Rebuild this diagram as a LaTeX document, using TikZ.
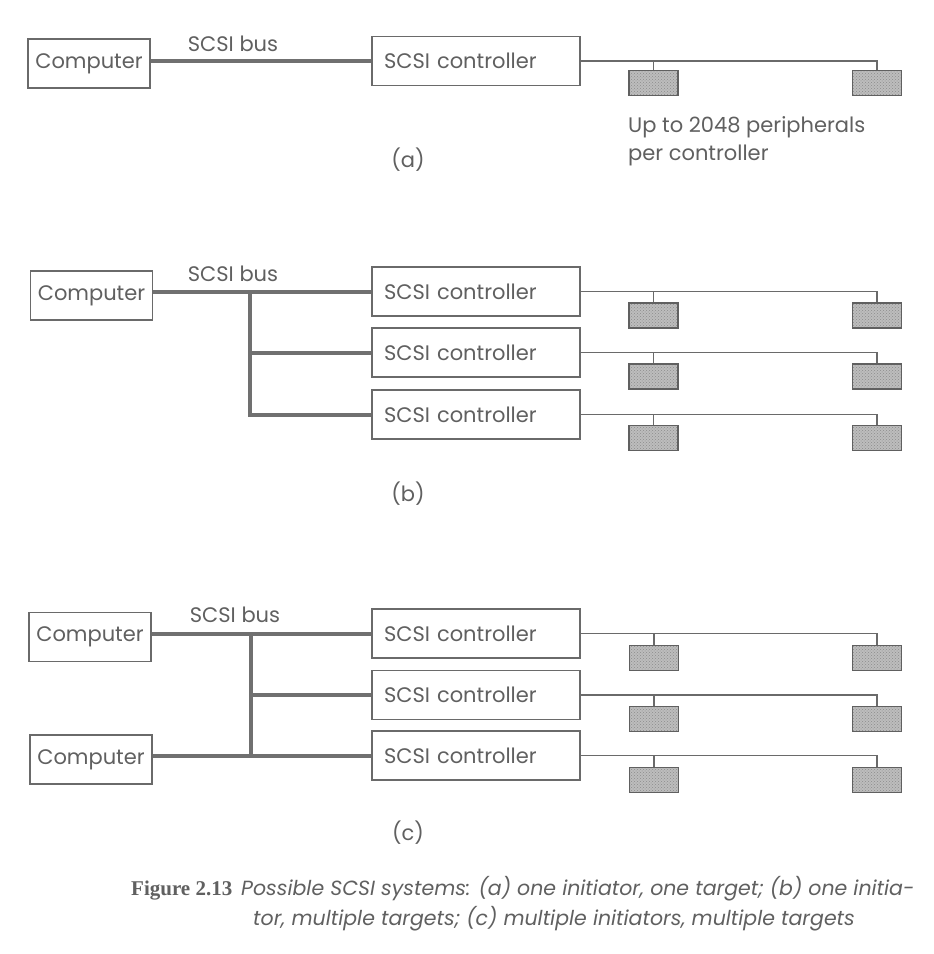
\documentclass[tikz,border=0pt]{standalone}
\usepackage{fontspec}
\setmainfont{Poppins}
\newfontfamily\capserif{Liberation Serif}
\usetikzlibrary{patterns}
\definecolor{ink}{HTML}{606060}
\definecolor{lineg}{HTML}{6A6A6A}
\definecolor{busg}{HTML}{707070}
\definecolor{pfill}{HTML}{BDBDBD}
\definecolor{pedge}{HTML}{606060}
\begin{document}
\begin{tikzpicture}[x=1pt,y=-1pt,
  lbl/.style={text=ink, font=\fontsize{21}{24}\selectfont, inner sep=0pt},
  compbox/.style={draw=lineg, line width=1.1pt, rectangle, inner sep=0pt,
    minimum width=122pt, minimum height=49pt, text=ink, font=\fontsize{21}{24}\selectfont},
  ctrlbox/.style={draw=lineg, line width=1.1pt, rectangle, inner xsep=12pt, inner ysep=0pt,
    text width=184pt, align=left, minimum height=49pt, text=ink, font=\fontsize{21}{24}\selectfont},
  periph/.style={draw=pedge, line width=1.8pt, rectangle, inner sep=0pt,
    minimum width=49pt, minimum height=25pt, preaction={fill=pfill},
    pattern=crosshatch dots, pattern color=black!45},
  bus/.style={draw=busg, line width=4pt},
  wire/.style={draw=lineg, line width=1.1pt}
]
\useasboundingbox (0,0) rectangle (934,954);
\fill[white] (0,0) rectangle (934,954);

% ---------- (a)
\node[compbox] (ca) at (89,63.5) {Computer};
\node[ctrlbox] (cta) at (476,61) {SCSI controller};
\node[periph] (pa1) at (653.5,83) {};
\node[periph] (pa2) at (877,83) {};
\draw[bus] (ca.east |- cta.west) -- (cta.west);
\draw[wire] (cta.east) -| (pa2.north);
\draw[wire] (pa1.north) -- (pa1.north |- cta.east);
\node[lbl] (busa) at (233,44) {SCSI bus};
\node[lbl, anchor=west] (upto) at (628,127) {Up to 2048 peripherals};
\node[lbl, anchor=west] (perc) at (628,155) {per controller};
\node[lbl] (capa) at (408,160) {(a)};

% ---------- (b)
\node[compbox] (cb) at (91.5,295.5) {Computer};
\node[ctrlbox] (ctb1) at (476,291.5) {SCSI controller};
\node[ctrlbox] (ctb2) at (476,352.5) {SCSI controller};
\node[ctrlbox] (ctb3) at (476,414.5) {SCSI controller};
\coordinate (jb) at (250,300);
\draw[bus] (cb.east |- ctb1.west) -- (ctb1.west);
\draw[bus, line join=miter] (jb |- ctb1.west) -- (jb |- ctb3.west) -- (ctb3.west);
\draw[bus] (jb |- ctb2.west) -- (ctb2.west);
\node[lbl] (busb) at (233,274) {SCSI bus};
\foreach \r/\y in {1/315.5,2/376.5,3/438}{
  \node[periph] (pb\r l) at (653.5,\y) {};
  \node[periph] (pb\r r) at (877,\y) {};
  \draw[wire] (ctb\r.east) -| (pb\r r.north);
  \draw[wire] (pb\r l.north) -- (pb\r l.north |- ctb\r.east);
}
\node[lbl] (capb) at (408,494) {(b)};

% ---------- (c)
\node[compbox] (cc1) at (90,637) {Computer};
\node[compbox] (cc2) at (91,759.5) {Computer};
\node[ctrlbox] (ctc1) at (476,633.5) {SCSI controller};
\node[ctrlbox] (ctc2) at (476,695) {SCSI controller};
\node[ctrlbox] (ctc3) at (476,755.5) {SCSI controller};
\coordinate (jc) at (251,700);
\draw[bus] (cc1.east |- ctc1.west) -- (ctc1.west);
\draw[bus] (cc2.east |- ctc3.west) -- (ctc3.west);
\draw[bus] (jc |- ctc1.west) -- (jc |- ctc3.west);
\draw[bus] (jc |- ctc2.west) -- (ctc2.west);
\node[lbl] (busc) at (235,615) {SCSI bus};
\foreach \r/\y in {1/658,2/719,3/780}{
  \node[periph] (pc\r l) at (654,\y) {};
  \node[periph] (pc\r r) at (877,\y) {};
  \draw[wire] (ctc\r.east) -| (pc\r r.north);
  \draw[wire] (pc\r l.north) -- (pc\r l.north |- ctc\r.east);
}
\node[lbl] (capc) at (408,833) {(c)};

% ---------- caption
\node[anchor=base west, inner sep=0pt, text=ink, font=\capserif\bfseries\fontsize{21}{24}\selectfont] (fig) at (131,895) {Figure 2.13};
\node[anchor=base west, inner sep=0pt, text=ink, font=\itshape\fontsize{20.5}{24}\selectfont] (cap1) at (241,895) {Possible SCSI systems: (a) one initiator, one target; (b) one initia-};
\node[anchor=base west, inner sep=0pt, text=ink, font=\itshape\fontsize{20.5}{24}\selectfont] (cap2) at (253,925) {tor, multiple targets; (c) multiple initiators, multiple targets};
\end{tikzpicture}
\end{document}
